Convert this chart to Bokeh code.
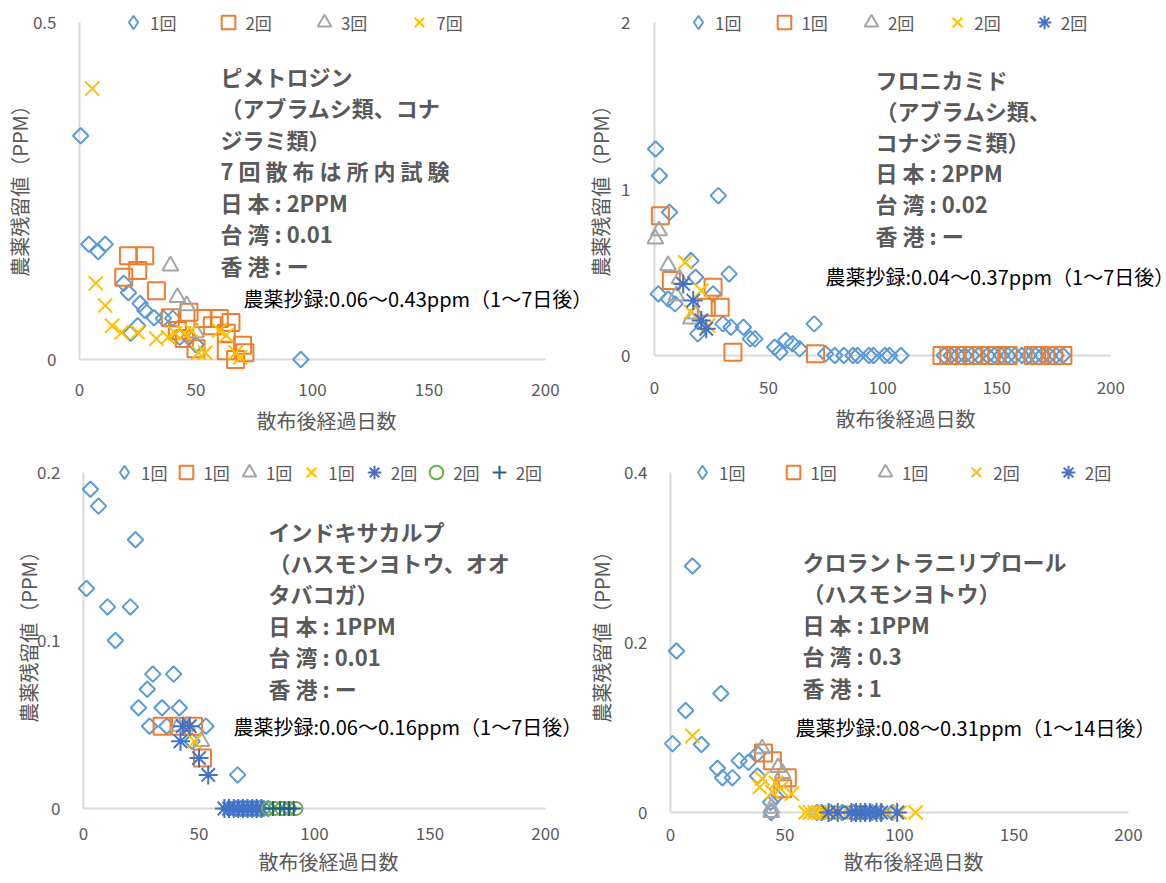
import math
from bokeh.plotting import figure
from bokeh.layouts import row, column
from bokeh.models import (Range1d, FixedTicker, NumeralTickFormatter, Legend,
                          LegendItem, Label)
from bokeh.embed import file_html
from bokeh.resources import INLINE

# ---------------- data ----------------
X_TICKS = [0, 50, 100, 150, 200]
X_TITLE = "散布後経過日数"
Y_TITLE = "農薬残留値（PPM）"

# Panel 1: ピメトロジン
p1_y_ticks = [0, 0.5]
p1_labels = ["1回", "2回", "3回", "7回"]
p1_s1_x = [0.5, 4, 8, 11, 19, 21, 26, 28, 32, 25, 22, 36, 40, 43, 47, 50, 95]
p1_s1_y = [0.332, 0.171, 0.160, 0.171, 0.113, 0.099, 0.083, 0.073, 0.062, 0.050, 0.039, 0.061, 0.061, 0.033, 0.033, 0.022, 0.0]
p1_s2_x = [21, 28, 25, 19, 33, 39, 47, 53, 60, 57, 42, 45, 50, 63, 70, 63, 67, 71, 65]
p1_s2_y = [0.154, 0.154, 0.132, 0.122, 0.102, 0.062, 0.070, 0.061, 0.061, 0.050, 0.043, 0.031, 0.016, 0.039, 0.021, 0.013, 0.0, 0.010, 0.055]
p1_s3_x = [39, 42, 46, 50]
p1_s3_y = [0.139, 0.092, 0.080, 0.040]
p1_s4_x = [5.5, 7, 11, 14, 18, 25, 33, 38, 41, 45, 48, 51, 54, 60, 63, 67, 69]
p1_s4_y = [0.402, 0.113, 0.080, 0.050, 0.040, 0.040, 0.031, 0.033, 0.039, 0.039, 0.043, 0.010, 0.010, 0.043, 0.036, 0.010, 0.003]
p1_text = ["ピメトロジン", "（アブラムシ類、コナ", "ジラミ類）", "7 回 散 布 は 所 内 試 験",
           "日 本 : 2PPM", "台 湾 : 0.01", "香 港 : ー"]
p1_note = "農薬抄録:0.06〜0.43ppm（1〜7日後）"

# Panel 2: フロニカミド
p2_y_ticks = [0, 1, 2]
p2_labels = ["1回", "1回", "2回", "2回", "2回"]
p2_s1_x = [0.5, 2.2, 6.6, 28, 32.7, 1.7, 6, 9, 16, 18, 25.7, 19, 30, 33.5, 39, 42, 44, 52.7, 55, 57.5, 60.5, 63.6, 70, 75,
           79, 83, 87, 89, 94, 96, 101, 103, 108, 127, 130, 133, 136, 139, 142, 146, 149, 152, 155, 158, 161, 164, 167, 170, 173, 176, 179]
p2_s1_y = [1.24, 1.08, 0.86, 0.96, 0.49, 0.37, 0.34, 0.31, 0.57, 0.47, 0.37, 0.13, 0.19, 0.17, 0.17, 0.10, 0.10, 0.05, 0.02, 0.09, 0.07, 0.04, 0.19, 0.01,
           0, 0, 0, 0, 0, 0, 0, 0, 0, 0, 0, 0, 0, 0, 0, 0, 0, 0, 0, 0, 0, 0, 0, 0, 0, 0, 0]
p2_s2_x = [2.6, 7.4, 25.7, 22.7, 28.8, 34.4, 70.6, 126, 129, 132, 136, 140, 147, 150, 155, 166, 169, 175, 179]
p2_s2_y = [0.84, 0.45, 0.41, 0.29, 0.29, 0.02, 0.01, 0, 0, 0, 0, 0, 0, 0, 0, 0, 0, 0, 0]
p2_s3_x = [0.4, 2, 6, 11, 9.6, 16, 18]
p2_s3_y = [0.70, 0.75, 0.54, 0.46, 0.36, 0.22, 0.25]
p2_s4_x = [13.5, 20.5, 16, 23.5]
p2_s4_y = [0.56, 0.39, 0.26, 0.18]
p2_s5_x = [12.6, 17, 20.5, 22.7]
p2_s5_y = [0.43, 0.33, 0.21, 0.16]
p2_text = ["フロニカミド", "（アブラムシ類、", "コナジラミ類）", "日 本 : 2PPM", "台 湾 : 0.02", "香 港 : ー"]
p2_note = "農薬抄録:0.04〜0.37ppm（1〜7日後）"

# Panel 3: インドキサカルブ
p3_y_ticks = [0, 0.1, 0.2]
p3_labels = ["1回", "1回", "1回", "1回", "2回", "2回", "2回"]
p3_s1_x = [3, 6.5, 22.5, 1.3, 10.4, 20.3, 13.8, 30, 39, 27.6, 23.8, 34, 41.5, 28.6, 36, 47, 53, 66.7,
           63, 66, 68, 70, 72, 74, 76, 78, 80]
p3_s1_y = [0.19, 0.18, 0.16, 0.131, 0.12, 0.12, 0.10, 0.08, 0.08, 0.071, 0.06, 0.06, 0.06, 0.049, 0.049, 0.04, 0.049, 0.02,
           0, 0, 0, 0, 0, 0, 0, 0, 0]
p3_s2_x = [34, 42, 47.6, 51.5]
p3_s2_y = [0.049, 0.049, 0.049, 0.03]
p3_s3_x = [41, 45, 51]
p3_s3_y = [0.049, 0.049, 0.04]
p3_s4_x = [48]
p3_s4_y = [0.04]
p3_s5_x = [42, 43, 46, 50, 54, 61, 63, 65, 67, 69, 71, 73, 75, 77]
p3_s5_y = [0.04, 0.049, 0.049, 0.03, 0.02, 0, 0, 0, 0, 0, 0, 0, 0, 0]
p3_s6_x = [80, 83, 86, 89, 92]
p3_s6_y = [0, 0, 0, 0, 0]
p3_s7_x = [82, 85, 87, 89, 91]
p3_s7_y = [0, 0, 0, 0, 0]
p3_text = ["インドキサカルプ", "（ハスモンヨトウ、オオ", "タバコガ）", "日 本 : 1PPM", "台 湾 : 0.01", "香 港 : ー"]
p3_note = "農薬抄録:0.06〜0.16ppm（1〜7日後）"

# Panel 4: クロラントラニリプロール
p4_y_ticks = [0, 0.2, 0.4]
p4_labels = ["1回", "1回", "1回", "2回", "2回"]
p4_s1_x = [9.6, 2.6, 22, 6.6, 0.9, 13.5, 20.5, 22.7, 27, 30, 34, 38, 38, 43.7, 46, 44,
           64, 66, 70, 75, 80, 85, 88, 92, 97]
p4_s1_y = [0.29, 0.19, 0.14, 0.12, 0.081, 0.08, 0.052, 0.041, 0.041, 0.061, 0.059, 0.069, 0.043, 0.012, 0.019, 0.0,
           0, 0, 0, 0, 0, 0, 0, 0, 0]
p4_s2_x = [40.6, 44.5, 51, 49]
p4_s2_y = [0.07, 0.061, 0.041, 0.028]
p4_s3_x = [40, 47, 49, 44, 44]
p4_s3_y = [0.075, 0.053, 0.046, 0.0, 0.005]
p4_s4_x = [9.6, 40, 39, 44.5, 48, 53, 46, 59, 61, 63, 65, 67, 70, 75, 80, 85, 90, 95, 100, 107]
p4_s4_y = [0.09, 0.04, 0.03, 0.024, 0.028, 0.022, 0.035, 0, 0, 0, 0, 0, 0, 0, 0, 0, 0, 0, 0, 0]
p4_s5_x = [69, 73, 79, 81, 83, 85, 87, 90, 92, 99]
p4_s5_y = [0, 0, 0, 0, 0, 0, 0, 0, 0, 0]
p4_text = ["クロラントラニリプロール", "（ハスモンヨトウ）", "日 本 : 1PPM", "台 湾 : 0.3", "香 港 : 1"]
p4_note = "農薬抄録:0.08〜0.31ppm（1〜14日後）"

# ---------------- styles ----------------
FONT = "Noto Sans CJK JP"
GRAY = "#595959"
AXIS = "#D9D9D9"
STYLES = {
    "diamond": dict(marker="square", size=11, angle=math.pi / 4, color="#5B9BD5", legend_marker="diamond"),
    "square": dict(marker="square", size=17, angle=0.0, color="#ED7D31", legend_marker="square"),
    "triangle": dict(marker="triangle", size=16, angle=0.0, color="#A5A5A5", legend_marker="triangle"),
    "x": dict(marker="x", size=20, angle=0.0, color="#FFC000", legend_marker="x"),
    "asterisk": dict(marker="asterisk", size=19, angle=0.0, color="#4472C4", legend_marker="asterisk"),
    "circle": dict(marker="circle", size=13, angle=0.0, color="#70AD47", legend_marker="circle"),
    "cross": dict(marker="cross", size=15, angle=0.0, color="#255E91", legend_marker="cross"),
}

W, H = 583, 441
PADX = 10
GLYPH = 34


def make_panel(series, labels, y_ticks, text, note, geo):
    ax, ar, at, ay, fb = geo["ax"], geo["ar"], geo["at"], geo["ay"], geo["fb"]
    ymax = y_ticks[-1]
    sx = (ar - ax) / 200.0
    sy = (ay - at) / ymax
    fl = ax - PADX          # frame left (px from figure left)
    pady = fb - ay          # frame bottom lies a little below the x axis
    p = figure(width=W, height=H, output_backend="svg", toolbar_location=None,
               x_range=Range1d(-PADX / sx, 200 + (W - ar) / sx),
               y_range=Range1d(-pady / sy, ymax + at / sy),
               min_border_left=fl, min_border_right=0,
               min_border_top=0, min_border_bottom=H - fb)
    p.grid.visible = False
    p.outline_line_color = None
    p.background_fill_color = "white"
    p.border_fill_color = "white"

    xa = p.xaxis[0]
    xa.ticker = FixedTicker(ticks=X_TICKS)
    xa.bounds = (X_TICKS[0], X_TICKS[-1])
    xa.axis_line_color = None
    xa.major_tick_line_color = None
    xa.minor_tick_line_color = None
    xa.major_tick_out = 0
    xa.major_tick_in = 0
    xa.major_label_standoff = geo["xls"]
    xa.major_label_text_font = FONT
    xa.major_label_text_font_size = "17px"
    xa.major_label_text_color = GRAY
    xa.axis_label = X_TITLE
    xa.axis_label_standoff = geo["xts"]
    xa.axis_label_text_font = FONT
    xa.axis_label_text_font_size = "20px"
    xa.axis_label_text_font_style = "normal"
    xa.axis_label_text_color = GRAY

    ya = p.yaxis[0]
    ya.ticker = FixedTicker(ticks=y_ticks)
    ya.bounds = (y_ticks[0], ymax)
    ya.formatter = NumeralTickFormatter(format="0.[0]")
    ya.axis_line_color = None
    ya.major_tick_line_color = None
    ya.minor_tick_line_color = None
    ya.major_tick_out = 0
    ya.major_tick_in = 0
    ya.major_label_standoff = geo["yls"]
    ya.major_label_text_font = FONT
    ya.major_label_text_font_size = "17px"
    ya.major_label_text_color = GRAY
    ya.axis_label = Y_TITLE
    ya.axis_label_standoff = geo["yts"]
    ya.axis_label_text_font = FONT
    ya.axis_label_text_font_size = "20px"
    ya.axis_label_text_font_style = "normal"
    ya.axis_label_text_color = GRAY

    # axis lines through the data origin, spanning the tick extents
    p.segment(x0=[X_TICKS[0], X_TICKS[0]], y0=[y_ticks[0], y_ticks[0]],
              x1=[X_TICKS[-1], X_TICKS[0]], y1=[y_ticks[0], ymax],
              line_color=AXIS, line_width=2, level="underlay")

    items = []
    for (kind, xs, ys), lab in zip(series, labels):
        st = STYLES[kind]
        p.scatter(xs, ys, marker=st["marker"], size=st["size"], angle=st["angle"],
                  fill_color=None, line_color=st["color"], line_width=2)
        # hidden twin used only to draw the legend symbol
        lr = p.scatter(xs, ys, marker=st["legend_marker"], size=st["size"],
                       fill_color=None, line_color=st["color"], line_width=2, visible=False)
        items.append(LegendItem(label=lab, renderers=[lr]))

    legend = Legend(items=items, orientation="horizontal",
                    location=(geo["lx"] - GLYPH // 2 - fl, fb - at - GLYPH // 2),
                    spacing=geo["lsp"], glyph_width=GLYPH, glyph_height=GLYPH, label_standoff=-2,
                    padding=0, margin=0, background_fill_alpha=0, border_line_alpha=0,
                    inactive_fill_alpha=0, click_policy="none",
                    label_text_font=FONT, label_text_font_size="17px", label_text_color=GRAY)
    p.add_layout(legend)

    tx, ty0, dy = geo["tx"], geo["ty"], geo["tdy"]
    for i, line in enumerate(text):
        p.add_layout(Label(x=tx - fl, y=fb - (ty0 + i * dy), x_units="screen", y_units="screen",
                           text=line, text_font=FONT, text_font_size="22px", text_font_style="bold",
                           text_color=GRAY, text_baseline="middle", text_align="left"))
    nx, ny = geo["note"]
    p.add_layout(Label(x=nx - fl, y=fb - ny, x_units="screen", y_units="screen",
                       text=note, text_font=FONT, text_font_size="20px",
                       text_color="#000000", text_baseline="middle", text_align="left"))
    return p


g1 = dict(ax=79, ar=545, at=22, ay=359, fb=371, xls=11, xts=7, yls=13, yts=-4,
          lx=133, lsp=35, tx=220, ty=75, tdy=31.5, note=(243, 298))
g2 = dict(ax=68, ar=527, at=22, ay=355, fb=371, xls=9, xts=7, yls=14, yts=3,
          lx=112, lsp=26, tx=289, ty=78, tdy=31.2, note=(239, 276))
g3 = dict(ax=83, ar=545, at=31, ay=367, fb=381, xls=4, xts=4, yls=13, yts=-9,
          lx=124, lsp=2, tx=268, ty=89, tdy=31.4, note=(233, 285))
g4 = dict(ax=87, ar=545, at=31, ay=371, fb=381, xls=5, xts=3, yls=13, yts=5,
          lx=119, lsp=31, tx=219, ty=119, tdy=31.5, note=(212, 286))

p1 = make_panel([("diamond", p1_s1_x, p1_s1_y), ("square", p1_s2_x, p1_s2_y),
                 ("triangle", p1_s3_x, p1_s3_y), ("x", p1_s4_x, p1_s4_y)],
                p1_labels, p1_y_ticks, p1_text, p1_note, g1)
p2 = make_panel([("diamond", p2_s1_x, p2_s1_y), ("square", p2_s2_x, p2_s2_y),
                 ("triangle", p2_s3_x, p2_s3_y), ("x", p2_s4_x, p2_s4_y),
                 ("asterisk", p2_s5_x, p2_s5_y)],
                p2_labels, p2_y_ticks, p2_text, p2_note, g2)
p3 = make_panel([("diamond", p3_s1_x, p3_s1_y), ("square", p3_s2_x, p3_s2_y),
                 ("triangle", p3_s3_x, p3_s3_y), ("x", p3_s4_x, p3_s4_y),
                 ("asterisk", p3_s5_x, p3_s5_y), ("circle", p3_s6_x, p3_s6_y),
                 ("cross", p3_s7_x, p3_s7_y)],
                p3_labels, p3_y_ticks, p3_text, p3_note, g3)
p4 = make_panel([("diamond", p4_s1_x, p4_s1_y), ("square", p4_s2_x, p4_s2_y),
                 ("triangle", p4_s3_x, p4_s3_y), ("x", p4_s4_x, p4_s4_y),
                 ("asterisk", p4_s5_x, p4_s5_y)],
                p4_labels, p4_y_ticks, p4_text, p4_note, g4)

layout = column(row(p1, p2, spacing=0), row(p3, p4, spacing=0), spacing=0)
open("out.html", "w").write(file_html(layout, INLINE))
